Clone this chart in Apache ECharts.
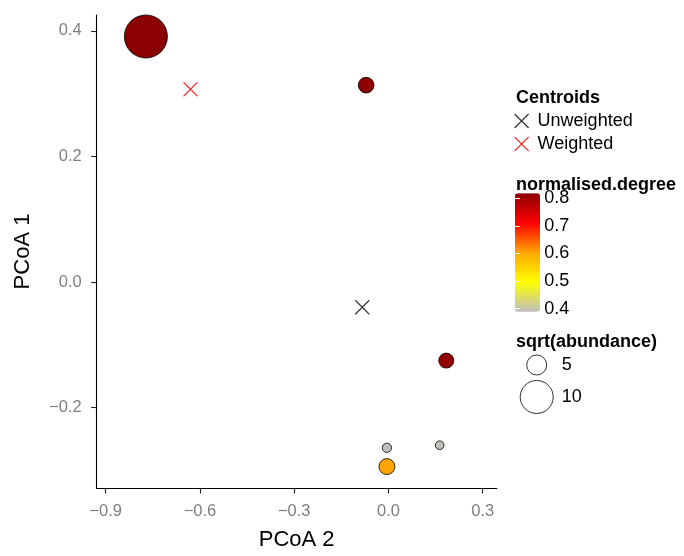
<!DOCTYPE html>
<html>
<head>
<meta charset="utf-8">
<script src="https://cdn.jsdelivr.net/npm/echarts@6/dist/echarts.min.js"></script>
<style>html,body{margin:0;padding:0;background:#fff}#c{width:684px;height:556px}</style>
</head>
<body>
<div id="c"></div>
<script>
// ---- data ----
const pcoa2 = [-0.772, -0.071, 0.184, -0.005, 0.163, -0.005];
const pcoa1 = [0.391, 0.3135, -0.125, -0.2638, -0.2597, -0.2937];
const sqrtAbundance = [13.85, 3.35, 3.08, 0.88, 0.65, 3.46];
const normalisedDegree = [0.818, 0.815, 0.812, 0.389, 0.392, 0.604];
const centroidNames = ['Unweighted', 'Weighted'];
const centroidX = [-0.0834, -0.630];
const centroidY = [-0.040, 0.307];
const xTicks = [-0.9, -0.6, -0.3, 0.0, 0.3];
const yTicks = [-0.2, 0.0, 0.2, 0.4];
const degreeTicks = [0.4, 0.5, 0.6, 0.7, 0.8];
const sizeBreaks = [5, 10];

// ---- styling helpers ----
const FONT = 'Liberation Sans, Arial, sans-serif';
const cross = 'path://M0,0L10,10M10,0L0,10';
const sizeFn = v => 7 + 2.6 * v;
const fmt = v => v.toFixed(1).replace('-', '\u2212');
const degMin = Math.min(...normalisedDegree), degMax = Math.max(...normalisedDegree);
const LEG = 18;

const pts = pcoa2.map((x, i) => [x, pcoa1[i], sqrtAbundance[i], normalisedDegree[i]]);

const chart = echarts.init(document.getElementById('c'));
chart.setOption({
  animation: false,
  textStyle: { fontFamily: FONT },
  title: [
    { text: 'Centroids', left: 516, top: 89, padding: 0, textStyle: { fontSize: LEG, fontWeight: 'bold', color: '#000', fontFamily: FONT } },
    { text: 'normalised.degree', left: 516, top: 176, padding: 0, textStyle: { fontSize: LEG, fontWeight: 'bold', color: '#000', fontFamily: FONT } },
    { text: 'sqrt(abundance)', left: 516, top: 333, padding: 0, textStyle: { fontSize: LEG, fontWeight: 'bold', color: '#000', fontFamily: FONT } }
  ],
  legend: {
    orient: 'vertical', left: 514, top: 112, padding: 0,
    itemWidth: 22, itemHeight: 14, itemGap: 5,
    selectedMode: false,
    textStyle: { fontSize: LEG, color: '#000', fontFamily: FONT },
    data: [
      { name: centroidNames[0], icon: cross, itemStyle: { color: 'transparent', borderColor: '#000', borderWidth: 1.2 } },
      { name: centroidNames[1], icon: cross, itemStyle: { color: 'transparent', borderColor: '#ff0000', borderWidth: 1.2 } }
    ]
  },
  visualMap: {
    type: 'continuous', seriesIndex: 0, dimension: 3,
    min: degMin, max: degMax, calculable: false,
    left: 515, top: 193.3, itemWidth: 25, itemHeight: 118.4, padding: 0,
    text: null, hoverLink: false,
    inRange: { color: ['#BEBEBE', '#FFFF00', '#FFA500', '#FF0000', '#8B0000'] }
  },
  grid: [
    { left: 96.7, top: 15, right: 684 - 496.7, bottom: 62 },
    { left: 515, top: 193.3, width: 25, height: 118.4 },
    { left: 526.7, top: 349, width: 20, height: 64 }
  ],
  xAxis: [
    {
      type: 'value', gridIndex: 0, min: -0.9286, max: 0.3445,
      splitLine: { show: false },
      axisLine: { onZero: false, lineStyle: { color: '#000', width: 1.1 } },
      axisTick: { show: true, length: 5.5, lineStyle: { color: '#222', width: 1.1 }, customValues: xTicks },
      axisLabel: { customValues: xTicks, formatter: fmt, color: '#7F7F7F', fontSize: 16.5, margin: 14.5, fontFamily: FONT },
      name: 'PCoA 2', nameLocation: 'middle', nameGap: 41,
      nameTextStyle: { fontSize: 22, color: '#000', fontFamily: FONT }
    },
    { type: 'value', gridIndex: 1, min: 0, max: 1, show: false },
    { type: 'value', gridIndex: 2, min: 0, max: 1, show: false }
  ],
  yAxis: [
    {
      type: 'value', gridIndex: 0, min: -0.3278, max: 0.4252,
      splitLine: { show: false },
      axisLine: { show: true, onZero: false, lineStyle: { color: '#000', width: 1.1 } },
      axisTick: { show: true, length: 5.5, lineStyle: { color: '#222', width: 1.1 }, customValues: yTicks },
      axisLabel: { customValues: yTicks, formatter: fmt, color: '#7F7F7F', fontSize: 16.5, margin: 15, fontFamily: FONT },
      name: 'PCoA 1', nameLocation: 'middle', nameGap: 63,
      nameTextStyle: { fontSize: 22, color: '#000', fontFamily: FONT }
    },
    {
      type: 'value', gridIndex: 1, position: 'right', min: degMin, max: degMax, z: 10,
      splitLine: { show: false }, axisLine: { show: false },
      axisTick: { show: true, inside: true, length: 5, lineStyle: { color: '#fff', width: 1 }, customValues: degreeTicks },
      axisLabel: { customValues: degreeTicks, formatter: v => v.toFixed(1), color: '#000', fontSize: LEG, margin: 4.3, fontFamily: FONT }
    },
    {
      type: 'value', gridIndex: 1, position: 'left', min: degMin, max: degMax, z: 10,
      splitLine: { show: false }, axisLine: { show: false },
      axisTick: { show: true, inside: true, length: 5, lineStyle: { color: '#fff', width: 1 }, customValues: degreeTicks },
      axisLabel: { show: false }
    },
    {
      type: 'category', gridIndex: 2, position: 'right', inverse: true,
      data: sizeBreaks.map(String),
      axisLine: { show: false }, axisTick: { show: false }, splitLine: { show: false },
      axisLabel: { color: '#000', fontSize: LEG, margin: 15, fontFamily: FONT }
    }
  ],
  series: [
    {
      type: 'scatter', xAxisIndex: 0, yAxisIndex: 0, data: pts,
      symbolSize: v => sizeFn(v[2]),
      itemStyle: { borderColor: '#000', borderWidth: 0.8, opacity: 1 }
    },
    {
      name: centroidNames[0], type: 'scatter', xAxisIndex: 0, yAxisIndex: 0,
      data: [[centroidX[0], centroidY[0]]], symbol: cross, symbolSize: 14,
      itemStyle: { color: 'transparent', borderColor: '#000', borderWidth: 1.2 }
    },
    {
      name: centroidNames[1], type: 'scatter', xAxisIndex: 0, yAxisIndex: 0,
      data: [[centroidX[1], centroidY[1]]], symbol: cross, symbolSize: 14,
      itemStyle: { color: 'transparent', borderColor: '#ff0000', borderWidth: 1.2 }
    },
    {
      type: 'scatter', xAxisIndex: 2, yAxisIndex: 3,
      data: sizeBreaks.map((s, i) => [0.5, i, s]),
      symbolSize: v => sizeFn(v[2]),
      itemStyle: { color: '#fff', borderColor: '#000', borderWidth: 1 }
    }
  ]
});
</script>
</body>
</html>
